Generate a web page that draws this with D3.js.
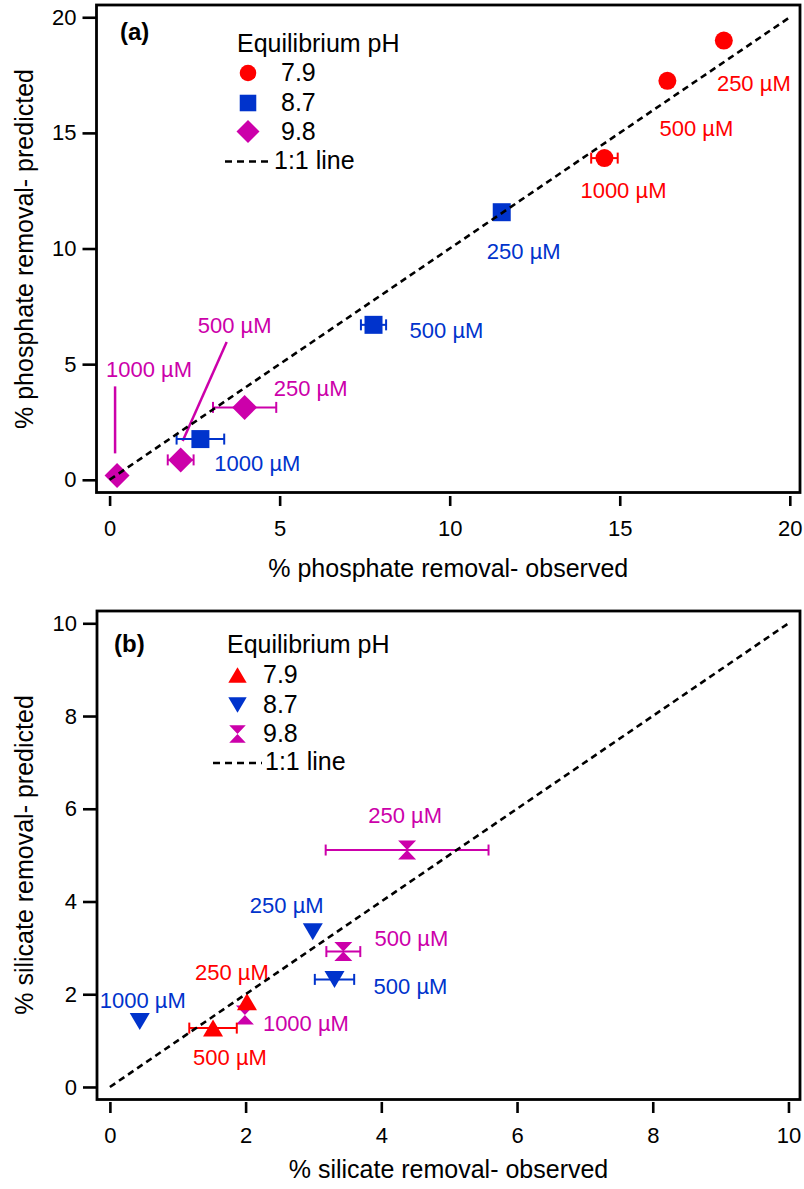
<!DOCTYPE html>
<html>
<head>
<meta charset="utf-8">
<script src="https://cdn.jsdelivr.net/npm/d3@7"></script>
<style>
  body { margin: 0; background: #fff; }
  svg { display: block; }
  text { font-family: "Liberation Sans", Arial, Helvetica, sans-serif; }
</style>
</head>
<body>
<svg id="fig" width="804" height="1189"></svg>
<script>
// ---------- data ----------
const phLevels = ["7.9", "8.7", "9.8"];
const concLabels = ["250 µM", "500 µM", "1000 µM"];

const phosTicks = [0, 5, 10, 15, 20];
const silTicks = [0, 2, 4, 6, 8, 10];

// phosphate removal (%): observed, predicted, error on observed
const phosObs79  = [18.06, 16.40, 14.55];
const phosPred79 = [18.99, 17.25, 13.91];
const phosErr79  = [0, 0, 0.39];

const phosObs87  = [11.53, 7.76, 2.67];
const phosPred87 = [11.57, 6.70, 1.76];
const phosErr87  = [0.1, 0.37, 0.70];

const phosObs98  = [3.97, 2.09, 0.22];
const phosPred98 = [3.13, 0.86, 0.19];
const phosErr98  = [0.93, 0.38, 0];

// silicate removal (%): observed, predicted, error on observed
const silConc79  = ["250 µM", "500 µM"];
const silObs79   = [2.02, 1.52];
const silPred79  = [1.84, 1.27];
const silErr79   = [0, 0.35];

const silObs87   = [2.99, 3.31, 0.44];
const silPred87  = [3.35, 2.32, 1.41];
const silErr87   = [0, 0.29, 0];

const silObs98   = [4.38, 3.44, 1.99];
const silPred98  = [5.11, 2.92, 1.55];
const silErr98   = [1.20, 0.25, 0];

// ---------- annotation placement (px offsets from each point) ----------
// [dx to label centre, dy to label baseline]
const phosLabelOff79 = [[30, 50], [29, 55], [19, 40]];
const phosLabelOff87 = [[22, 47], [73, 13], [57, 32]];
const phosLabelOff98 = [[66, -11], [54, -127], [32, -98]];
// leader lines [x1, y1, x2, y2] relative to point
const phosLeader98 = [null, [46, -118, 2, -19], [-2, -89, -2, -22]];

const silLabelOff79 = [[-15, -22], [17, 37]];
const silLabelOff87 = [[-26, -19], [76, 15], [3, -14]];
const silLabelOff98 = [[-2, -27], [68, -6], [61, 16]];

// ---------- styling ----------
const RED = "#ff0000", BLUE = "#0033cc", MAG = "#cc00aa";

const svg = d3.select("#fig");

// marker shapes (centred on the bounding box)
function shapePath(kind) {
  const p = d3.path();
  if (kind === "circle") return d3.symbol(d3.symbolCircle, Math.PI * 9 * 9)();
  if (kind === "square") return d3.symbol(d3.symbolSquare, 18 * 18)();
  if (kind === "diamond") {
    const h = 12.5;
    p.moveTo(0, -h); p.lineTo(h, 0); p.lineTo(0, h); p.lineTo(-h, 0); p.closePath();
  } else if (kind === "triUp") {
    const w = 20, h = 17;
    p.moveTo(0, -h / 2); p.lineTo(w / 2, h / 2); p.lineTo(-w / 2, h / 2); p.closePath();
  } else if (kind === "triDown") {
    const w = 20, h = 17;
    p.moveTo(-w / 2, -h / 2); p.lineTo(w / 2, -h / 2); p.lineTo(0, h / 2); p.closePath();
  } else if (kind === "hourglass") {
    const w = 18, h = 19;
    p.moveTo(-w / 2, -h / 2); p.lineTo(w / 2, -h / 2); p.lineTo(0, 0); p.closePath();
    p.moveTo(-w / 2, h / 2); p.lineTo(w / 2, h / 2); p.lineTo(0, 0); p.closePath();
  }
  return p.toString();
}

function buildSeries(obs, pred, err, conc, offs, leaders) {
  return obs.map((o, i) => ({
    obs: o, pred: pred[i], err: err[i], conc: conc[i],
    off: offs[i], leader: leaders ? leaders[i] : null
  }));
}

const panels = [
  {
    tag: "(a)",
    frame: { l: 96.5, r: 800, t: 5, b: 492.5 },
    xDomain: [-0.385, 20.3], yDomain: [-0.55, 20.53],
    ticks: phosTicks, oneToOne: 20,
    xTitle: "% phosphate removal- observed",
    yTitle: "% phosphate removal- predicted",
    xAxisY: 496, xTickLen: 10, xTitleY: 577, yTitleY: 249,
    tagPos: [120, 40],
    legend: { x: 237, titleY: 51.5, symX: 248, textX: 281, rows: [81, 111, 139.5], lineY: 161.5, lineX: [225, 272], lineTextX: 274, lineTextY: 168.5 },
    shapes: ["circle", "square", "diamond"],
    series: [
      { color: RED,  shape: "circle",  pts: buildSeries(phosObs79, phosPred79, phosErr79, concLabels, phosLabelOff79) },
      { color: BLUE, shape: "square",  pts: buildSeries(phosObs87, phosPred87, phosErr87, concLabels, phosLabelOff87) },
      { color: MAG,  shape: "diamond", pts: buildSeries(phosObs98, phosPred98, phosErr98, concLabels, phosLabelOff98, phosLeader98) }
    ],
    order: [2, 1, 0]
  },
  {
    tag: "(b)",
    frame: { l: 97, r: 800, t: 611, b: 1099.5 },
    xDomain: [-0.19, 10.17], yDomain: [-0.27, 10.265],
    ticks: silTicks, oneToOne: 10,
    xTitle: "% silicate removal- observed",
    yTitle: "% silicate removal- predicted",
    xAxisY: 1102, xTickLen: 11, xTitleY: 1178, yTitleY: 855,
    tagPos: [114, 652],
    legend: { x: 227, titleY: 653, symX: 237.5, textX: 263, rows: [683, 713, 742], lineY: 763, lineX: [213, 262], lineTextX: 265, lineTextY: 770 },
    shapes: ["triUp", "triDown", "hourglass"],
    series: [
      { color: RED,  shape: "triUp",     pts: buildSeries(silObs79, silPred79, silErr79, silConc79, silLabelOff79) },
      { color: BLUE, shape: "triDown",   pts: buildSeries(silObs87, silPred87, silErr87, concLabels, silLabelOff87) },
      { color: MAG,  shape: "hourglass", pts: buildSeries(silObs98, silPred98, silErr98, concLabels, silLabelOff98) }
    ],
    order: [2, 1, 0]
  }
];

const colors = [RED, BLUE, MAG];

panels.forEach(P => {
  const f = P.frame;
  const x = d3.scaleLinear().domain(P.xDomain).range([f.l, f.r]);
  const y = d3.scaleLinear().domain(P.yDomain).range([f.b, f.t]);
  const g = svg.append("g");

  // y axis (ticks attached to frame)
  const yAx = g.append("g").attr("transform", `translate(${f.l},0)`)
    .call(d3.axisLeft(y).tickValues(P.ticks).tickSize(14).tickPadding(6).tickFormat(d3.format("d")));
  yAx.select(".domain").remove();
  yAx.selectAll(".tick line").attr("stroke", "#000").attr("stroke-width", 2.6);
  yAx.selectAll(".tick text").attr("font-size", 22).attr("fill", "#000")
    .attr("font-family", "Liberation Sans, Arial, sans-serif");

  // x axis (offset slightly below the frame)
  const xAx = g.append("g").attr("transform", `translate(0,${P.xAxisY})`)
    .call(d3.axisBottom(x).tickValues(P.ticks).tickSize(P.xTickLen).tickPadding(14).tickFormat(d3.format("d")));
  xAx.select(".domain").remove();
  xAx.selectAll(".tick line").attr("stroke", "#000").attr("stroke-width", 2.6);
  xAx.selectAll(".tick text").attr("font-size", 22).attr("fill", "#000")
    .attr("font-family", "Liberation Sans, Arial, sans-serif");

  // axis titles
  g.append("text").attr("x", (f.l + f.r) / 2).attr("y", P.xTitleY)
    .attr("text-anchor", "middle").attr("font-size", 25).text(P.xTitle);
  g.append("text").attr("transform", `translate(33,${P.yTitleY}) rotate(-90)`)
    .attr("text-anchor", "middle").attr("font-size", 25).text(P.yTitle);

  // plot area content
  const plot = g.append("g");

  // error bars, markers, labels (drawn series by series)
  P.order.forEach(si => {
    const s = P.series[si];
    const sg = plot.append("g");
    s.pts.forEach(d => {
      const cx = x(d.obs), cy = y(d.pred);
      if (d.err > 0) {
        const x0 = x(d.obs - d.err), x1 = x(d.obs + d.err);
        sg.append("line").attr("x1", x0).attr("x2", x1).attr("y1", cy).attr("y2", cy)
          .attr("stroke", s.color).attr("stroke-width", 2);
        [x0, x1].forEach(xx => sg.append("line").attr("x1", xx).attr("x2", xx)
          .attr("y1", cy - 5.5).attr("y2", cy + 5.5).attr("stroke", s.color).attr("stroke-width", 2));
      }
      sg.append("path").attr("d", shapePath(s.shape))
        .attr("transform", `translate(${cx},${cy})`).attr("fill", s.color);
      if (d.leader) {
        sg.append("line")
          .attr("x1", cx + d.leader[0]).attr("y1", cy + d.leader[1])
          .attr("x2", cx + d.leader[2]).attr("y2", cy + d.leader[3])
          .attr("stroke", s.color).attr("stroke-width", 2.5);
      }
      sg.append("text").attr("x", cx + d.off[0]).attr("y", cy + d.off[1])
        .attr("text-anchor", "middle").attr("font-size", 22).attr("fill", s.color)
        .text(d.conc);
    });
  });

  // 1:1 line
  plot.append("line")
    .attr("x1", x(0)).attr("y1", y(0)).attr("x2", x(P.oneToOne)).attr("y2", y(P.oneToOne))
    .attr("stroke", "#000").attr("stroke-width", 2.6).attr("stroke-dasharray", "6.5,4.5");

  // frame
  g.append("rect").attr("x", f.l).attr("y", f.t).attr("width", f.r - f.l).attr("height", f.b - f.t)
    .attr("fill", "none").attr("stroke", "#000").attr("stroke-width", 2.8);

  // panel tag
  g.append("text").attr("x", P.tagPos[0]).attr("y", P.tagPos[1])
    .attr("font-size", 24).attr("font-weight", "bold").text(P.tag);

  // legend
  const L = P.legend;
  const lg = g.append("g");
  lg.append("text").attr("x", L.x).attr("y", L.titleY).attr("font-size", 25).text("Equilibrium pH");
  phLevels.forEach((ph, i) => {
    const cy = L.rows[i] - 8;
    lg.append("path").attr("d", shapePath(P.shapes[i]))
      .attr("transform", `translate(${L.symX},${cy}) scale(0.92)`).attr("fill", colors[i]);
    lg.append("text").attr("x", L.textX).attr("y", L.rows[i]).attr("font-size", 25).text(ph);
  });
  lg.append("line").attr("x1", L.lineX[0]).attr("x2", L.lineX[1]).attr("y1", L.lineY).attr("y2", L.lineY)
    .attr("stroke", "#000").attr("stroke-width", 2.4).attr("stroke-dasharray", "7,5");
  lg.append("text").attr("x", L.lineTextX).attr("y", L.lineTextY).attr("font-size", 25).text("1:1 line");
});
</script>
</body>
</html>
